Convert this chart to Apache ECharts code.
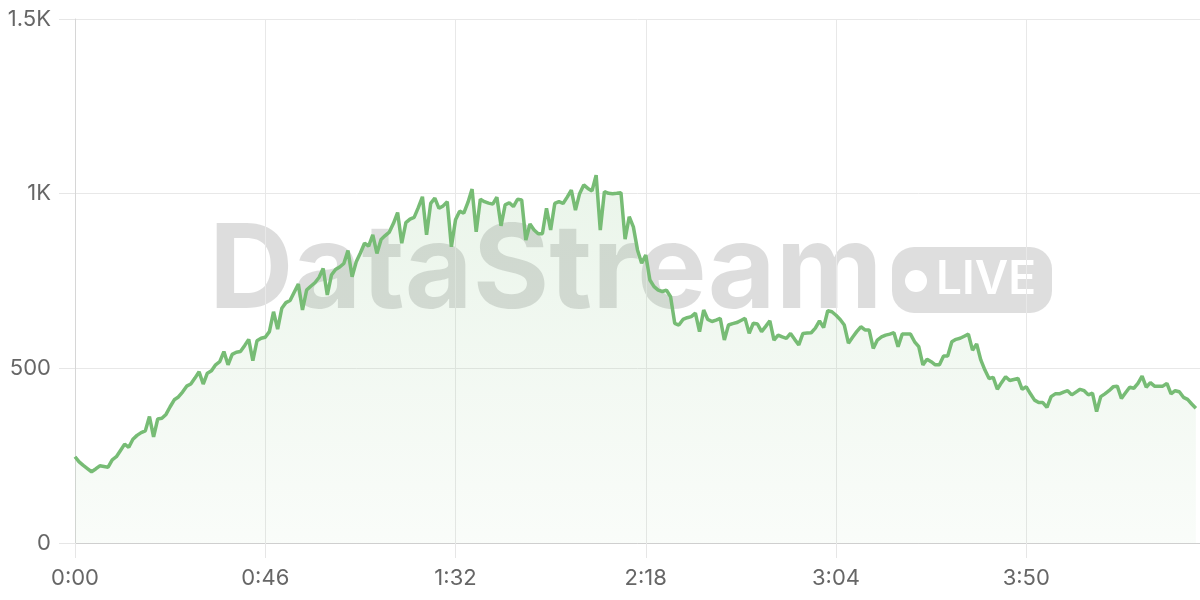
<!DOCTYPE html>
<html>
<head>
<meta charset="utf-8">
<script src="https://cdn.jsdelivr.net/npm/echarts@6/dist/echarts.min.js"></script>
<style>
html,body{margin:0;padding:0;background:#fff;}
#chart{width:1200px;height:600px;}
</style>
</head>
<body>
<div id="chart"></div>
<script>
// Sample values, one per second (0:00 .. 4:31)
const values = [
247,232,222,213,204,212,221,219,217,238,
247,265,283,274,297,308,316,321,362,304,
355,357,368,390,410,418,432,449,455,472,
490,455,486,493,510,519,548,510,540,546,
548,565,583,522,579,586,589,605,
662,612,672,688,694,718,741,667,724,735,
745,760,786,710,767,783,790,800,837,762,
805,830,858,850,882,829,869,880,890,915,
946,858,917,927,932,960,991,882,972,987,
958,965,977,848,925,950,
944,975,1013,891,984,977,973,970,990,908,
968,974,963,984,982,867,913,896,885,885,
958,896,972,977,972,990,1010,953,1000,1025,
1015,1008,1053,896,1006,1001,1000,1001,1003,870,
934,905,839,801,824,753,
734,724,720,724,705,629,624,640,645,648,
658,605,667,640,634,638,643,581,624,628,
631,637,643,600,629,627,605,620,636,581,
595,590,586,600,583,567,600,601,602,615,
636,617,665,662,652,640,624,572,589,605,
619,610,610,557,581,590,595,598,602,562,
598,598,598,576,562,510,526,519,510,510,
535,535,576,583,586,592,598,552,570,524,
495,471,474,440,459,476,465,468,471,440,
447,427,409,402,402,388,419,427,427,432,
436,424,432,440,436,424,429,376,419,427,
436,447,449,414,430,446,443,457,478,446,
459,449,449,449,457,427,436,433,417,411,
398,386
];
const seconds = values.map((v, i) => i);
const xTickSeconds = [0, 46, 92, 138, 184, 230];
const yTicks = [0, 500, 1000, 1500];
const yTickLabels = ['0', '500', '1K', '1.5K'];

const seriesData = seconds.map((s, i) => [s, values[i]]);

function fmtTime(s) {
  const m = Math.floor(s / 60);
  const ss = Math.round(s % 60);
  return m + ':' + (ss < 10 ? '0' : '') + ss;
}

const chart = echarts.init(document.getElementById('chart'), null, {renderer: 'canvas'});
chart.setOption({
  animation: false,
  backgroundColor: '#ffffff',
  textStyle: {fontFamily: 'Inter'},
  grid: {left: 75, right: 0, top: 19, bottom: 57, containLabel: false},
  graphic: [
    {
      type: 'text', z: 0, silent: true,
      style: {
        text: 'DataStream', x: 209, y: 273,
        font: 'bold 117px Inter', fill: 'rgba(0,0,0,0.135)',
        align: 'left', verticalAlign: 'middle'
      }
    },
    {
      type: 'rect', z: 0, silent: true,
      shape: {x: 892, y: 247, width: 160, height: 66, r: 22},
      style: {fill: 'rgba(0,0,0,0.13)'}
    },
    {
      type: 'circle', z: 0, silent: true,
      shape: {cx: 916, cy: 281, r: 11},
      style: {fill: '#ffffff'}
    },
    {
      type: 'text', z: 0, silent: true,
      style: {
        text: 'LIVE', x: 936, y: 280,
        font: '600 46px Inter', fill: '#ffffff',
        align: 'left', verticalAlign: 'middle'
      }
    }
  ],
  xAxis: {
    type: 'value',
    min: 0,
    max: 272,
    interval: 46,
    axisLine: {show: true, lineStyle: {color: '#cfcfcf', width: 1}},
    axisTick: {show: true, length: 15, lineStyle: {color: '#e6e6e6'}},
    splitLine: {show: true, lineStyle: {color: '#e8e8e8', width: 1}},
    axisLabel: {
      show: true, margin: 24, fontSize: 22, color: '#666666', fontFamily: 'Inter',
      showMaxLabel: false,
      formatter: function (v) { return xTickSeconds.indexOf(v) >= 0 ? fmtTime(v) : ''; }
    }
  },
  yAxis: {
    type: 'value',
    min: 0,
    max: 1500,
    interval: 500,
    axisLine: {show: true, lineStyle: {color: '#d6d6d6', width: 1}},
    axisTick: {show: true, length: 16, lineStyle: {color: '#e6e6e6'}},
    splitLine: {show: true, lineStyle: {color: '#e8e8e8', width: 1}},
    axisLabel: {
      show: true, margin: 24, fontSize: 22, color: '#666666', fontFamily: 'Inter',
      formatter: function (v) { const k = yTicks.indexOf(v); return k >= 0 ? yTickLabels[k] : ''; }
    }
  },
  series: [{
    type: 'line',
    data: seriesData,
    showSymbol: false,
    symbol: 'none',
    smooth: false,
    z: 3,
    lineStyle: {color: '#77bc75', width: 3.5},
    areaStyle: {
      color: new echarts.graphic.LinearGradient(0, 0, 0, 1, [
        {offset: 0, color: 'rgba(119,188,117,0.22)'},
        {offset: 1, color: 'rgba(119,188,117,0.06)'}
      ])
    }
  }]
});
</script>
</body>
</html>
